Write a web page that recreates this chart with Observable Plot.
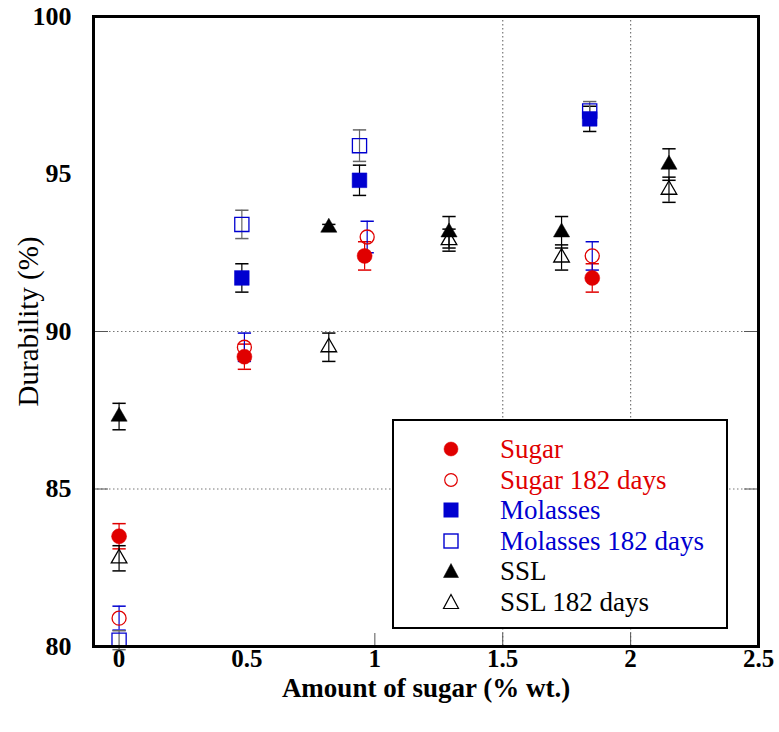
<!DOCTYPE html>
<html>
<head>
<meta charset="utf-8">
<script src="https://cdn.jsdelivr.net/npm/d3@7"></script>
<script src="https://cdn.jsdelivr.net/npm/@observablehq/plot@0.6"></script>
<style>
  html, body { margin: 0; padding: 0; background: #fff; }
  #wrap { position: relative; width: 779px; height: 732px; }
  #legend { position: absolute; left: 392px; top: 419px; width: 332px; height: 206px;
    border: 2px solid #000; background: #fff; box-sizing: content-box;
    font-family: "Liberation Serif", "Times New Roman", Times, serif; font-size: 27px; }
  .row { position: absolute; left: 0; height: 30px; }
  .row svg { position: absolute; left: 48px; }
  .row span { position: absolute; left: 106px; top: 0; white-space: nowrap; line-height: 30px; }
</style>
</head>
<body>
<div id="wrap"></div>
<script>
// ---- data ----
const sugarX = [0, 0.49, 0.96, 1.85];
const sugarY = [83.5, 89.2, 92.4, 91.7];
const sugarErr = [0.4, 0.4, 0.45, 0.45];

const sugar182X = [0, 0.49, 0.97, 1.85];
const sugar182Y = [80.9, 89.5, 93.0, 92.4];
const sugar182Err = [0.38, 0.45, 0.5, 0.45];

const molassesX = [0.48, 0.94, 1.84];
const molassesY = [91.7, 94.8, 96.75];
const molassesErr = [0.45, 0.48, 0.4];

const molasses182X = [0, 0.48, 0.94, 1.84];
const molasses182Y = [80.2, 93.4, 95.9, 97.0];
const molasses182Err = [0.3, 0.45, 0.5, 0.3];

const sslX = [0, 0.82, 1.29, 1.73, 2.15];
const sslY = [87.3, 93.3, 93.15, 93.15, 95.3];
const sslErr = [0.42, 0.1, 0.5, 0.5, 0.5];

const ssl182X = [0, 0.82, 1.29, 1.73, 2.15];
const ssl182Y = [82.8, 89.5, 92.9, 92.35, 94.5];
const ssl182Err = [0.4, 0.45, 0.35, 0.4, 0.4];

const xTicks = [0, 0.5, 1, 1.5, 2, 2.5];
const yTicks = [80, 85, 90, 95, 100];
const xGrid = [1.5, 2];
const yGrid = [85, 90];
const xInnerTicks = [1, 1.5, 2];

const seriesNames = ["Sugar", "Sugar 182 days", "Molasses", "Molasses 182 days", "SSL", "SSL 182 days"];

const RED = "#e00000", BLUE = "#0000d0";
const SERIF = "'Liberation Serif', 'Times New Roman', Times, serif";

function rows(xs, ys, es) { return xs.map((x, i) => ({x, y: ys[i], e: es[i]})); }

const series = [
  {name: seriesNames[0], data: rows(sugarX, sugarY, sugarErr), symbol: "circle", filled: true, color: RED, err: RED, r: 7.5},
  {name: seriesNames[1], data: rows(sugar182X, sugar182Y, sugar182Err), symbol: "circle", filled: false, color: RED, err: BLUE, r: 7},
  {name: seriesNames[2], data: rows(molassesX, molassesY, molassesErr), symbol: "square", filled: true, color: BLUE, err: "#000", r: 8.3},
  {name: seriesNames[3], data: rows(molasses182X, molasses182Y, molasses182Err), symbol: "square", filled: false, color: BLUE, err: "#666", r: 8},
  {name: seriesNames[4], data: rows(sslX, sslY, sslErr), symbol: "triangle", filled: true, color: "#000", err: "#000", r: 6},
  {name: seriesNames[5], data: rows(ssl182X, ssl182Y, ssl182Err), symbol: "triangle", filled: false, color: "#000", err: "#000", r: 5.8}
];

// horizontal line symbol used for error-bar caps
const capSymbol = { draw(ctx, size) { const w = Math.sqrt(size); ctx.moveTo(-w / 2, 0); ctx.lineTo(w / 2, 0); } };

const marks = [
  Plot.ruleX(xGrid, {stroke: "#777", strokeDasharray: "1.5,2.5", strokeWidth: 1.2}),
  Plot.ruleY(yGrid, {stroke: "#777", strokeDasharray: "1.5,2.5", strokeWidth: 1.2}),
  // inner solid tick marks (left/right at grid y, bottom at xInnerTicks)
  Plot.axisY(yGrid, {anchor: "left", tickSize: -15, tickFormat: () => "", stroke: "#555", label: null}),
  Plot.axisY(yGrid, {anchor: "right", tickSize: -15, tickFormat: () => "", stroke: "#555", label: null}),
  Plot.axisX(xInnerTicks, {anchor: "bottom", tickSize: -13, tickFormat: () => "", stroke: "#555", label: null})
];

// error bars
for (const s of series) {
  marks.push(Plot.ruleX(s.data, {x: "x", y1: d => d.y - d.e, y2: d => d.y + d.e, stroke: s.err, strokeWidth: 1.2}));
  marks.push(Plot.dot(s.data, {x: "x", y: d => d.y - d.e, symbol: capSymbol, r: 7.5, stroke: s.err, strokeWidth: 1.5, fill: "none"}));
  marks.push(Plot.dot(s.data, {x: "x", y: d => d.y + d.e, symbol: capSymbol, r: 7.5, stroke: s.err, strokeWidth: 1.5, fill: "none"}));
}
// markers
for (const s of series) {
  marks.push(Plot.dot(s.data, {
    x: "x", y: "y", symbol: s.symbol, r: s.r,
    fill: s.filled ? s.color : "none",
    stroke: s.color, strokeWidth: s.filled ? 0.5 : 1.3
  }));
}

marks.push(Plot.frame({stroke: "#000", strokeWidth: 3}));
marks.push(Plot.axisX(xTicks, {anchor: "bottom", tickSize: 0, tickPadding: 3, fontSize: 25, fontWeight: "bold",
  tickFormat: d => String(d), label: null, fontFamily: SERIF}));
marks.push(Plot.axisY(yTicks, {anchor: "left", tickSize: 0, tickPadding: 22, fontSize: 26, fontWeight: "bold",
  tickFormat: d => String(d), label: null, fontFamily: SERIF}));
marks.push(Plot.text(["Amount of sugar (% wt.)"], {frameAnchor: "bottom", dy: 42, fontSize: 27, fontWeight: "bold", lineAnchor: "middle", textAnchor: "middle", fontFamily: SERIF}));
marks.push(Plot.text(["Durability (%)"], {frameAnchor: "left", dx: -65, dy: -10, rotate: -90, fontSize: 29, lineAnchor: "middle", textAnchor: "middle", fontFamily: SERIF}));

const chart = Plot.plot({
  width: 779,
  height: 732,
  marginLeft: 93,
  marginRight: 21,
  marginTop: 16,
  marginBottom: 86,
  style: {fontFamily: SERIF, color: "#000", background: "#fff"},
  x: {domain: [-0.1, 2.5]},
  y: {domain: [80, 100]},
  marks
});
const wrap = document.getElementById("wrap");
wrap.appendChild(chart);

// legend (HTML overlay)
const legend = document.createElement("div");
legend.id = "legend";
const legendSym = {
  circle: (f, c) => `<circle cx="9" cy="9" r="${f ? 7 : 6.3}" fill="${f ? c : 'none'}" stroke="${c}" stroke-width="${f ? 0.5 : 1.2}"/>`,
  square: (f, c) => f ? `<rect x="1.5" y="1.5" width="15" height="15" fill="${c}"/>` : `<rect x="2" y="2" width="14" height="14" fill="none" stroke="${c}" stroke-width="1.4"/>`,
  triangle: (f, c) => `<path d="M9,1.5 L16.5,15.5 L1.5,15.5 Z" fill="${f ? c : 'none'}" stroke="${c}" stroke-width="${f ? 0.5 : 1.2}"/>`
};
series.forEach((s, i) => {
  const row = document.createElement("div");
  row.className = "row";
  row.style.top = (13 + i * 30.6) + "px";
  row.innerHTML = `<svg width="18" height="18" style="top:6px">${legendSym[s.symbol](s.filled, s.color)}</svg>` +
    `<span style="color:${s.color}">${s.name}</span>`;
  legend.appendChild(row);
});
wrap.appendChild(legend);
</script>
</body>
</html>
